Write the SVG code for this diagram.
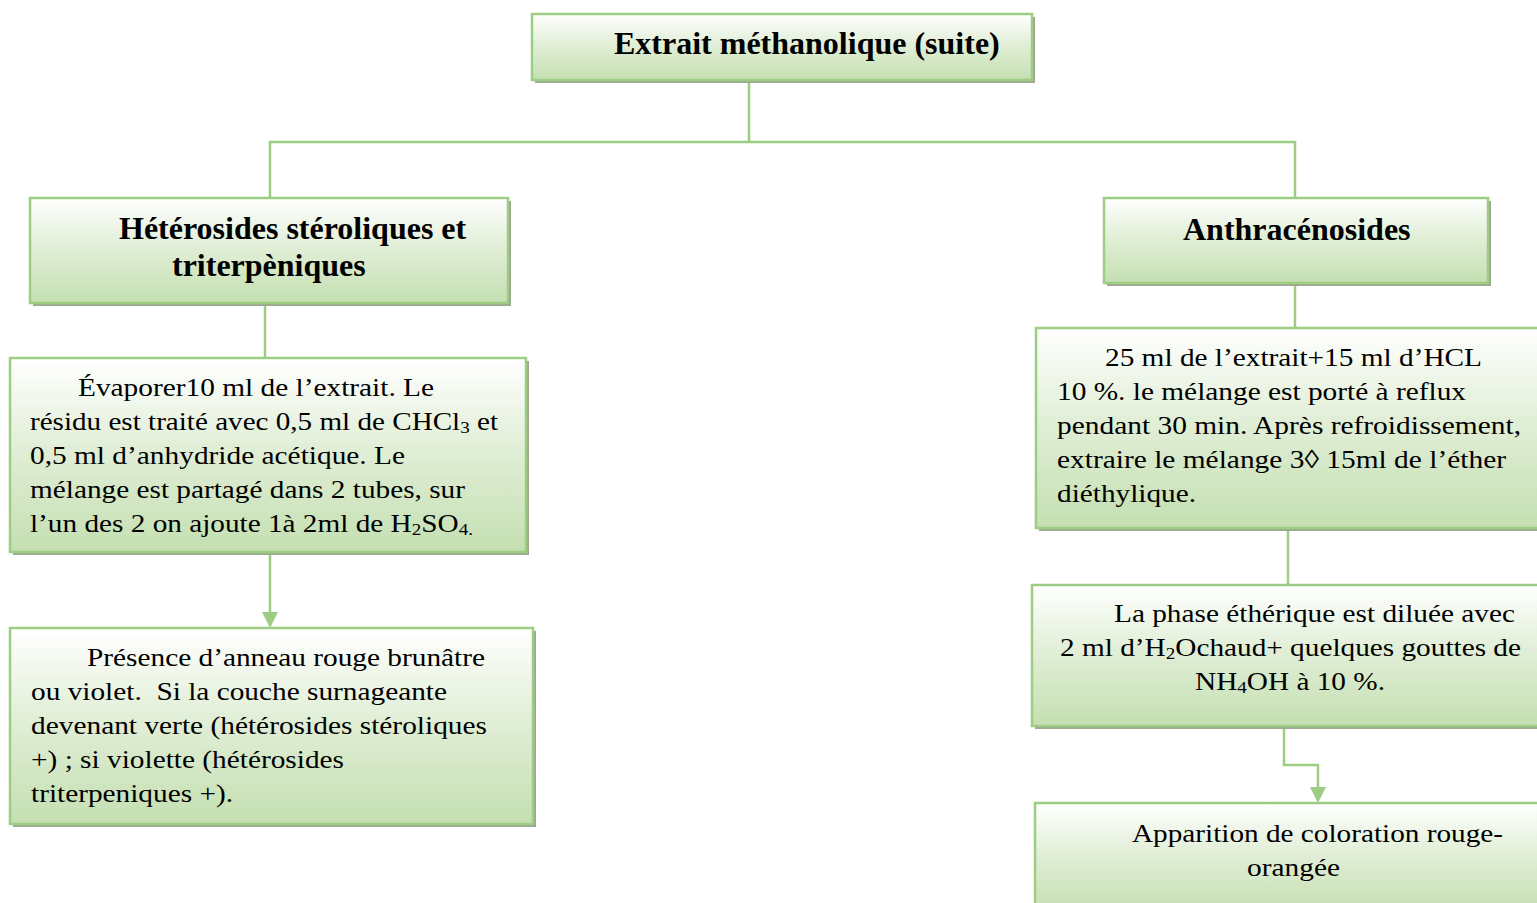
<svg xmlns="http://www.w3.org/2000/svg" width="1537" height="903" viewBox="0 0 1537 903">
  <defs>
    <linearGradient id="boxFill" x1="0" y1="0" x2="0" y2="1">
      <stop offset="0" stop-color="#ffffff"/>
      <stop offset="0.45" stop-color="#e2efd8"/>
      <stop offset="1" stop-color="#c4dfb1"/>
    </linearGradient>
  </defs>
  <style>
    .shadow { fill: #9ea792; }
    .box { fill: url(#boxFill); stroke: #9ccd82; stroke-width: 2.5; }
    .head { font-family: "Liberation Serif", "Times New Roman", serif; font-weight: bold; font-size: 32px; fill: #000; }
    .body { font-family: "Liberation Serif", "Times New Roman", serif; font-size: 26px; fill: #000; }
    .sub { font-size: 17px; }
    .link { fill: none; stroke: #9ccd82; stroke-width: 2.5; }
    .tip { fill: #9ccd82; }
  </style>

  <rect width="1537" height="903" fill="#ffffff"/>

  <!-- connectors -->
  <g id="connectors">
    <polyline class="link" points="749,83 749,142"/>
    <polyline class="link" points="270,198 270,142 1295,142 1295,198"/>
    <polyline class="link" points="265,303 265,358"/>
    <polyline class="link" points="270,552 270,614"/>
    <polygon class="tip" points="262,612 278,612 270,628"/>
    <polyline class="link" points="1295,283 1295,328"/>
    <polyline class="link" points="1288,528 1288,585"/>
    <polyline class="link" points="1284,726 1284,765 1318,765 1318,789"/>
    <polygon class="tip" points="1310,787 1326,787 1318,803"/>
  </g>

  <!-- top node -->
  <g id="node-extrait">
    <rect class="shadow" x="535" y="17" width="500" height="66"/>
    <rect class="box" x="532" y="14" width="500" height="66"/>
    <text class="head" x="614" y="54">Extrait méthanolique (suite)</text>
  </g>

  <g id="node-heterosides">
    <rect class="shadow" x="33" y="201" width="478" height="105"/>
    <rect class="box" x="30" y="198" width="478" height="105"/>
    <text class="head" x="119" y="239">Hétérosides stéroliques et</text>
    <text class="head" x="172" y="276">triterpèniques</text>
  </g>

  <g id="node-anthracenosides">
    <rect class="shadow" x="1107" y="201" width="384" height="85"/>
    <rect class="box" x="1104" y="198" width="384" height="85"/>
    <text class="head" x="1183" y="240">Anthracénosides</text>
  </g>

  <g id="node-evaporer">
    <rect class="shadow" x="13" y="361" width="516" height="194"/>
    <rect class="box" x="10" y="358" width="516" height="194"/>
    <text class="body" x="78" y="396" textLength="356" lengthAdjust="spacingAndGlyphs">Évaporer10 ml de l’extrait. Le</text>
    <text class="body" x="30" y="430" textLength="468" lengthAdjust="spacingAndGlyphs">résidu est traité avec 0,5 ml de CHCl<tspan class="sub" baseline-shift="-20%">3</tspan> et</text>
    <text class="body" x="30" y="464" textLength="375" lengthAdjust="spacingAndGlyphs">0,5 ml d’anhydride acétique. Le</text>
    <text class="body" x="30" y="498" textLength="435" lengthAdjust="spacingAndGlyphs">mélange est partagé dans 2 tubes, sur</text>
    <text class="body" x="30" y="532" textLength="443" lengthAdjust="spacingAndGlyphs">l’un des 2 on ajoute 1à 2ml de H<tspan class="sub" baseline-shift="-20%">2</tspan>SO<tspan class="sub" baseline-shift="-20%">4.</tspan></text>
  </g>

  <g id="node-presence">
    <rect class="shadow" x="13" y="631" width="523" height="196"/>
    <rect class="box" x="10" y="628" width="523" height="196"/>
    <text class="body" x="87" y="666" textLength="398" lengthAdjust="spacingAndGlyphs">Présence d’anneau rouge brunâtre</text>
    <text class="body" x="31" y="700" textLength="416" lengthAdjust="spacingAndGlyphs" xml:space="preserve">ou violet.  Si la couche surnageante</text>
    <text class="body" x="31" y="734" textLength="456" lengthAdjust="spacingAndGlyphs">devenant verte (hétérosides stéroliques</text>
    <text class="body" x="31" y="768" textLength="313" lengthAdjust="spacingAndGlyphs">+) ; si violette (hétérosides</text>
    <text class="body" x="31" y="802" textLength="202" lengthAdjust="spacingAndGlyphs">triterpeniques +).</text>
  </g>

  <g id="node-hcl">
    <rect class="shadow" x="1039" y="331" width="510" height="200"/>
    <rect class="box" x="1036" y="328" width="510" height="200"/>
    <text class="body" x="1105" y="366" textLength="377" lengthAdjust="spacingAndGlyphs">25 ml de l’extrait+15 ml d’HCL</text>
    <text class="body" x="1057" y="400" textLength="409" lengthAdjust="spacingAndGlyphs">10 %. le mélange est porté à reflux</text>
    <text class="body" x="1057" y="434" textLength="464" lengthAdjust="spacingAndGlyphs">pendant 30 min. Après refroidissement,</text>
    <text class="body" x="1057" y="468" textLength="449" lengthAdjust="spacingAndGlyphs">extraire le mélange 3◊ 15ml de l’éther</text>
    <text class="body" x="1057" y="502" textLength="139" lengthAdjust="spacingAndGlyphs">diéthylique.</text>
  </g>

  <g id="node-phase">
    <rect class="shadow" x="1035" y="588" width="515" height="141"/>
    <rect class="box" x="1032" y="585" width="515" height="141"/>
    <text class="body" x="1114" y="622" textLength="401" lengthAdjust="spacingAndGlyphs">La phase éthérique est diluée avec</text>
    <text class="body" x="1060" y="656" textLength="461" lengthAdjust="spacingAndGlyphs">2 ml d’H<tspan class="sub" baseline-shift="-20%">2</tspan>Ochaud+ quelques gouttes de</text>
    <text class="body" x="1195" y="690" textLength="190" lengthAdjust="spacingAndGlyphs">NH<tspan class="sub" baseline-shift="-20%">4</tspan>OH à 10 %.</text>
  </g>

  <g id="node-coloration">
    <rect class="shadow" x="1038" y="806" width="512" height="110"/>
    <rect class="box" x="1035" y="803" width="512" height="110"/>
    <text class="body" x="1132" y="842" textLength="371" lengthAdjust="spacingAndGlyphs">Apparition de coloration rouge-</text>
    <text class="body" x="1247" y="876" textLength="93" lengthAdjust="spacingAndGlyphs">orangée</text>
  </g>
</svg>
